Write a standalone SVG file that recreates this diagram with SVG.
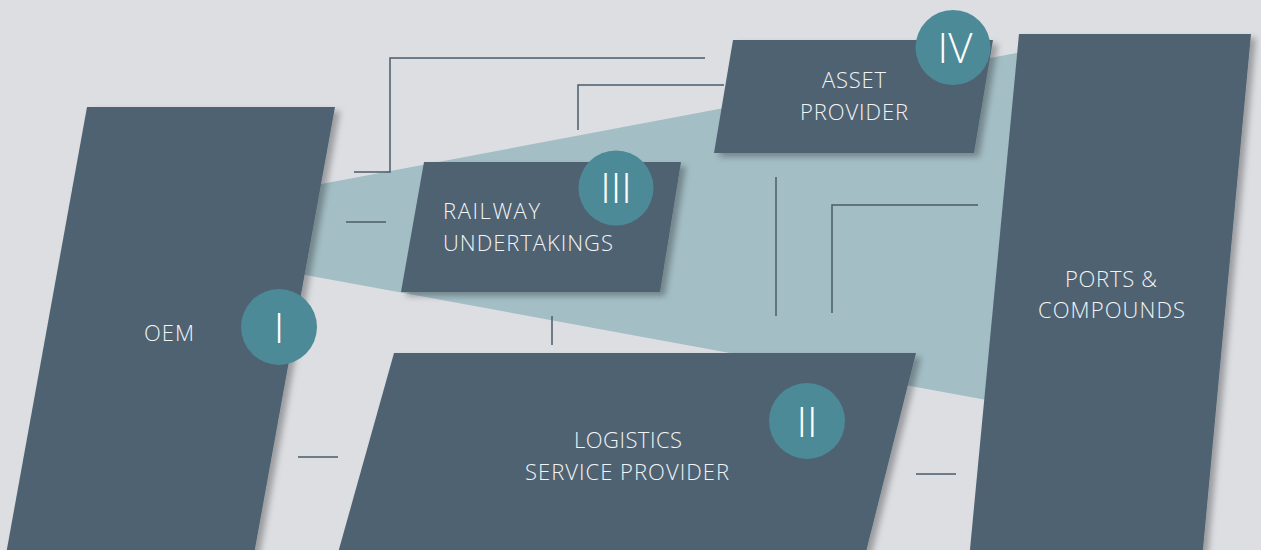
<svg xmlns="http://www.w3.org/2000/svg" width="1261" height="550" viewBox="0 0 1261 550">
<defs>
<filter id="sh" x="-10%" y="-10%" width="125%" height="125%">
<feDropShadow dx="5" dy="4" stdDeviation="3" flood-color="#000" flood-opacity="0.3"/>
</filter>
<style>
.box{fill:#506272;filter:url(#sh)}
.badge{fill:#4d8a97}
.lbl{font-family:"Open Sans","Liberation Sans",sans-serif;font-weight:300;font-size:22px;fill:#f2f4f6}
.num{font-family:"Open Sans","Liberation Sans",sans-serif;font-weight:300;font-size:42px;fill:#ffffff;text-anchor:middle}
.ln{fill:none;stroke:#4a5b6b;stroke-width:1.5}
</style>
</defs>
<rect width="1261" height="550" fill="#dcdee2"/>
<polygon id="band" points="300,188 1030,50.5 1030,408 300,274" fill="#a3bec5"/>
<g id="connectors">
<polyline class="ln" points="354,172 390,172 390,58 705,58"/>
<polyline class="ln" points="578,130 578,85 724,85"/>
<line class="ln" x1="346" y1="222" x2="386" y2="222"/>
<line class="ln" x1="776" y1="177" x2="776" y2="316"/>
<polyline class="ln" points="832,313 832,205 978,205"/>
<line class="ln" x1="552" y1="316" x2="552" y2="345"/>
<line class="ln" x1="298" y1="457" x2="338" y2="457"/>
<line class="ln" x1="916" y1="474" x2="956" y2="474"/>
</g>
<g id="oem">
<polygon class="box" points="87,107 335,107 253,560 5,560"/>
<text class="lbl" x="144" y="341" textLength="50" lengthAdjust="spacing">OEM</text>
<circle class="badge" cx="279" cy="327" r="38"/>
<text class="num" x="279" y="343">I</text>
</g>
<g id="railway">
<polygon class="box" points="424,162 681,162 660,292 401,292"/>
<text class="lbl" x="443" y="219" textLength="97" lengthAdjust="spacing">RAILWAY</text>
<text class="lbl" x="443" y="251" textLength="170" lengthAdjust="spacing">UNDERTAKINGS</text>
<circle class="badge" cx="616" cy="188" r="37.5"/>
<text class="num" x="616" y="203">III</text>
</g>
<g id="asset">
<polygon class="box" points="733,40 993,40 974,153 714,153"/>
<text class="lbl" x="822" y="88" textLength="64" lengthAdjust="spacing">ASSET</text>
<text class="lbl" x="800" y="120" textLength="108" lengthAdjust="spacing">PROVIDER</text>
<circle class="badge" cx="953" cy="47.5" r="37.5"/>
<text class="num" x="955" y="63">IV</text>
</g>
<g id="logistics">
<polygon class="box" points="394,353 916,353 864,560 336,560"/>
<text class="lbl" x="574" y="448" textLength="108" lengthAdjust="spacing">LOGISTICS</text>
<text class="lbl" x="525" y="480" textLength="204" lengthAdjust="spacing">SERVICE PROVIDER</text>
<circle class="badge" cx="807" cy="421" r="38"/>
<text class="num" x="807" y="437">II</text>
</g>
<g id="ports">
<polygon class="box" points="1019,34 1251,34 1202,560 969,560"/>
<text class="lbl" x="1065" y="287" textLength="92" lengthAdjust="spacing">PORTS &amp;</text>
<text class="lbl" x="1038" y="318" textLength="147" lengthAdjust="spacing">COMPOUNDS</text>
</g>
</svg>
